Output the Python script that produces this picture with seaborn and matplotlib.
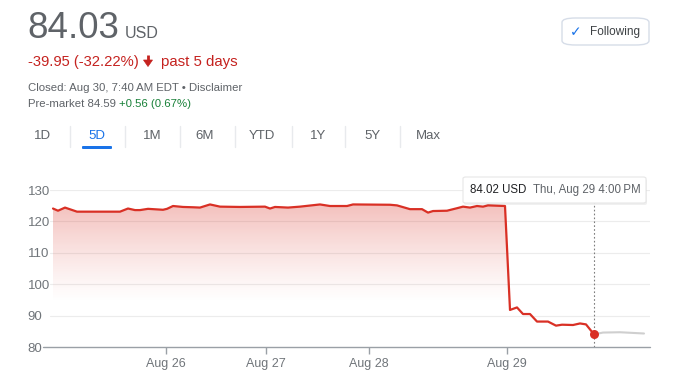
import numpy as np
import pandas as pd
import matplotlib
matplotlib.use("Agg")
import matplotlib.pyplot as plt
import seaborn as sns
from matplotlib.patches import FancyBboxPatch, Polygon
from matplotlib.lines import Line2D

# ---------------- data ----------------
# session position (time index) and price for the closed-market series
red_pos = [0, 5, 12, 24, 67, 75, 82, 87, 95, 110, 114, 120, 130, 140, 147, 157, 167, 187,
           212, 217, 222, 235, 247, 267, 277, 294, 300, 337, 344, 357, 369, 375, 380, 394,
           404, 410, 417, 424, 430, 435, 452, 457, 464, 470, 477, 484, 495, 503, 509, 520,
           527, 533, 541]
red_price = [124.1, 123.4, 124.4, 123.1, 123.1, 124.1, 123.6, 123.6, 124.0, 123.7, 124.0, 124.9,
             124.6, 124.5, 124.4, 125.4, 124.7, 124.6, 124.7, 124.1, 124.6, 124.4, 124.7, 125.4,
             124.9, 124.9, 125.4, 125.3, 125.1, 123.9, 123.9, 122.8, 123.3, 123.4, 124.2, 124.7,
             124.4, 124.9, 124.7, 125.1, 124.9, 91.8, 92.6, 90.5, 90.5, 88.1, 88.1, 86.8, 87.1,
             87.0, 87.5, 87.2, 84.02]
# pre-market continuation
pre_pos = [541, 550, 567, 591]
pre_price = [84.02, 84.6, 84.7, 84.3]

tick_pos = [113, 213, 316, 454]
tick_labels = ["Aug 26", "Aug 27", "Aug 28", "Aug 29"]
y_ticks = [80, 90, 100, 110, 120, 130]

tabs = ["1D", "5D", "1M", "6M", "YTD", "1Y", "5Y", "Max"]
tab_x = [43, 97, 152, 205, 262, 318, 372, 428]

# ---------------- styling ----------------
sns.set_theme(style="white")
plt.rcParams["font.family"] = ["Liberation Sans", "DejaVu Sans"]

W, H = 680, 381
fig = plt.figure(figsize=(W / 100, H / 100), dpi=100)
fig.patch.set_facecolor("white")

def fx(x):
    return x / W

def fy(y):
    return 1 - y / H

RED = "#d93025"
GRAY_TXT = "#70757a"

ax_left, ax_right, ax_top, ax_bot = 43, 650, 190, 347
ax = fig.add_axes([fx(ax_left), fy(ax_bot), (ax_right - ax_left) / W, (ax_bot - ax_top) / H])
ax.set_facecolor("none")

red_df = pd.DataFrame({"pos": red_pos, "price": red_price})
pre_df = pd.DataFrame({"pos": pre_pos, "price": pre_price})

x0 = -10
x1 = 597
ax.set_xlim(x0, x1)
ax.set_ylim(80, 130)

# horizontal grid lines
for v in y_ticks[1:]:
    ax.plot([-3, x1], [v, v], color="#ececec", lw=0.8, zorder=0)

# gradient fill under red line
poly = ax.fill_between(red_df["pos"], red_df["price"], 80, color="none", lw=0)
ny = 300
vals = np.linspace(130, 80, ny)
alpha = 0.32 * np.clip((vals - 94) / (126 - 94), 0, 1) ** 1.2
img = np.zeros((ny, 2, 4))
img[..., 0] = 0.86
img[..., 1] = 0.22
img[..., 2] = 0.18
img[..., 3] = alpha[:, None]
im = ax.imshow(img, extent=[red_pos[0], red_pos[-1], 80, 130], aspect="auto", zorder=1,
               interpolation="bilinear")
path = poly.get_paths()[0]
im.set_clip_path(path, transform=ax.transData)

sns.lineplot(data=pre_df, x="pos", y="price", ax=ax, color="#cfcfcf", linewidth=1.5,
             estimator=None, sort=False, zorder=3)
sns.lineplot(data=red_df, x="pos", y="price", ax=ax, color=RED, linewidth=1.6,
             estimator=None, sort=False, zorder=4)
ax.scatter([red_pos[-1]], [red_price[-1]], s=42, color=RED, zorder=5, linewidths=0)

# dotted vertical marker
ax.plot([red_pos[-1], red_pos[-1]], [80, 125.8], color="#7d7d7d", lw=0.8,
        ls=(0, (1.5, 2)), zorder=2)

# bottom axis line
ax.plot([x0, x1], [80, 80], color="#9aa0a6", lw=1.0, zorder=2, clip_on=False)

for s in ax.spines.values():
    s.set_visible(False)

ax.set_yticks(y_ticks)
ax.set_yticklabels([str(v) for v in y_ticks])
for lab in ax.get_yticklabels():
    lab.set_horizontalalignment("left")
ax.tick_params(axis="y", length=0, pad=11, labelsize=9.5, labelcolor=GRAY_TXT)

ax.set_xticks(tick_pos)
ax.set_xticklabels(tick_labels)
ax.tick_params(axis="x", length=5, width=1, color="#9aa0a6", direction="out",
               pad=3, labelsize=9, labelcolor=GRAY_TXT, bottom=True)
ax.set_xlabel("")
ax.set_ylabel("")

# tooltip (with a faint shadow)
shadow = FancyBboxPatch((fx(464), fy(205)), fx(646) - fx(463), fy(177) - fy(203),
                        boxstyle="round,pad=0,rounding_size=0.004", transform=fig.transFigure,
                        facecolor="#000000", alpha=0.06, edgecolor="none", zorder=9)
fig.patches.append(shadow)
tip = FancyBboxPatch((fx(463), fy(203)), fx(646) - fx(463), fy(177) - fy(203),
                     boxstyle="round,pad=0,rounding_size=0.004", transform=fig.transFigure,
                     facecolor="white", edgecolor="#e6e6e6", lw=0.8, zorder=10)
fig.patches.append(tip)
fig.text(fx(470), fy(190), "84.02 USD", fontsize=8.3, color="#202124", va="center",
         ha="left", zorder=11)
fig.text(fx(533), fy(190), "Thu, Aug 29 4:00\u2009PM", fontsize=8.3, color="#5f6368",
         va="center", ha="left", zorder=11)

# ---------------- header ----------------
fig.text(fx(27), fy(38), "84.03", fontsize=26.5, color="#5f6368", va="baseline", ha="left")
fig.text(fx(125), fy(38), "USD", fontsize=11.5, color="#5f6368", va="baseline", ha="left")
fig.text(fx(28), fy(66), "-39.95 (-32.22%)", fontsize=10.6, color="#c5221f",
         va="baseline", ha="left")
# bold down arrow
fig.add_artist(Line2D([fx(148), fx(148)], [fy(55), fy(63)], transform=fig.transFigure,
                      color="#c5221f", lw=2.0, solid_capstyle="butt"))
fig.patches.append(Polygon([[fx(143.5), fy(60)], [fx(152.5), fy(60)], [fx(148), fy(66.5)]],
                           closed=True, transform=fig.transFigure, facecolor="#c5221f",
                           edgecolor="#c5221f", lw=0.5))
fig.text(fx(161), fy(66), "past 5 days", fontsize=10.8, color="#c5221f",
         va="baseline", ha="left")
fig.text(fx(28), fy(91), "Closed: Aug 30, 7:40\u2009AM EDT \u2022 Disclaimer", fontsize=8.2,
         color="#5f6368", va="baseline", ha="left")
fig.text(fx(28), fy(107), "Pre-market 84.59 ", fontsize=8.2, color="#5f6368",
         va="baseline", ha="left")
fig.text(fx(119), fy(107), "+0.56 (0.67%)", fontsize=8.2, color="#188038",
         va="baseline", ha="left")

for name, x in zip(tabs, tab_x):
    fig.text(fx(x), fy(136), name, fontsize=9.5, color="#1a73e8" if name == "5D" else "#5f6368",
             va="center", ha="center")
for sx in [70, 125, 180, 235, 292, 345, 400]:
    fig.add_artist(Line2D([fx(sx), fx(sx)], [fy(126), fy(147)], transform=fig.transFigure,
                          color="#e8eaed", lw=1))
fig.patches.append(FancyBboxPatch((fx(82), fy(149)), fx(112) - fx(82), fy(146) - fy(149),
                                  boxstyle="round,pad=0,rounding_size=0.002",
                                  transform=fig.transFigure, facecolor="#1a73e8",
                                  edgecolor="none"))

# Following button
fig.patches.append(FancyBboxPatch((fx(562), fy(45)), fx(649) - fx(562), fy(18) - fy(45),
                                  boxstyle="round,pad=0,rounding_size=0.02",
                                  mutation_aspect=H / W,
                                  transform=fig.transFigure, facecolor="white",
                                  edgecolor="#d6dde8", lw=1))
fig.text(fx(576), fy(32), "\u2713", fontsize=10, color="#1a73e8", va="center", ha="center",
         family=["DejaVu Sans"])
fig.text(fx(590), fy(32), "Following", fontsize=8.5, color="#3c4043", va="center", ha="left")

fig.savefig("out.png", dpi=100, facecolor="white")
